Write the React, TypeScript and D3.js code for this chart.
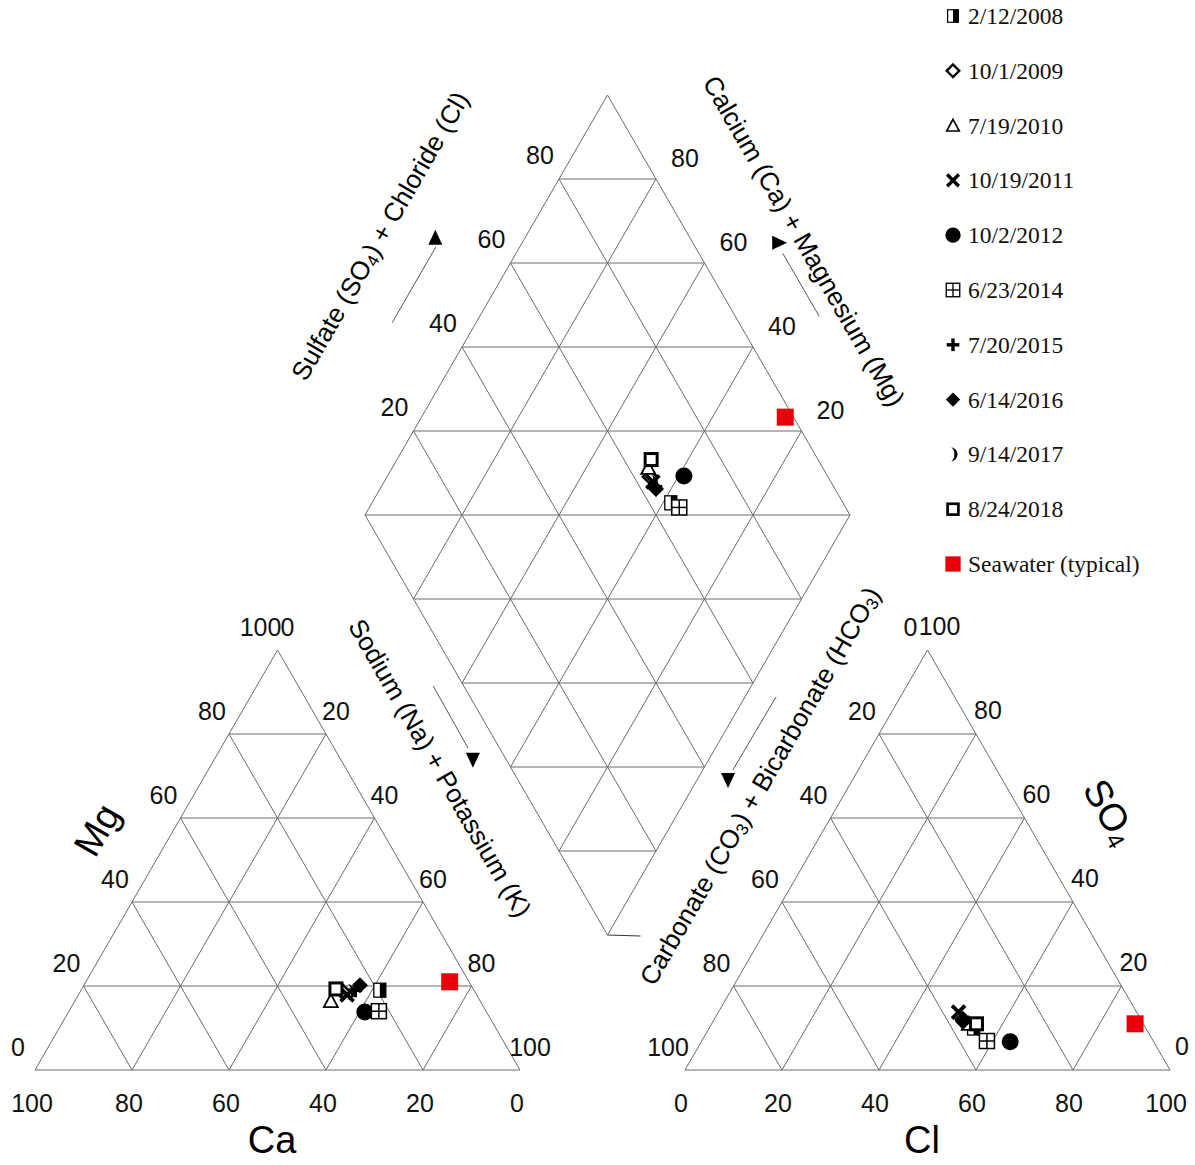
import React from 'react';
import * as d3 from 'd3';

// ---- data (percent of meq) ----
const sampleNames = ['2/12/2008', '10/1/2009', '7/19/2010', '10/19/2011', '10/2/2012', '6/23/2014', '7/20/2015', '6/14/2016', '9/14/2017', '8/24/2018', 'Seawater (typical)'];
const markerKinds = ['halfSquare', 'openDiamond', 'triangle', 'cross', 'circle', 'gridSquare', 'plus', 'filledDiamond', 'moon', 'openSquare', 'seawater'];
// cations
const mgPct = [19.0, 18.6, 16.4, 17.9, 13.8, 14.0, 19.0, 20.2, 18.6, 19.3, 21.0];
const naKPct = [61.6, 54.2, 52.8, 55.4, 61.1, 63.9, 56.5, 56.9, 55.6, 52.4, 75.0];
const caPct = mgPct.map((m, i) => 100 - m - naKPct[i]);
// anions
const so4Pct = [10.0, 12.0, 11.0, 13.8, 6.7, 6.9, 12.0, 11.5, 12.0, 11.0, 11.0];
const clPct = [54.5, 51.3, 53.0, 49.5, 63.7, 58.8, 51.2, 51.6, 51.2, 54.6, 87.3];
const hco3Pct = so4Pct.map((s, i) => 100 - s - clPct[i]);

const tickValues = [0, 20, 40, 60, 80, 100];
const diamondTicks = [20, 40, 60, 80];
const gridFractions = [0.2, 0.4, 0.6, 0.8];

// ---- geometry ----
const SIDE = 485;
const H = 420;
const BASE_Y = 1070;
const CAT_X0 = 35;
const AN_X0 = 685;
const D_BOTTOM_X = 607.5;
const D_BOTTOM_Y = 935;

const yTri = d3.scaleLinear().domain([0, 100]).range([BASE_Y, BASE_Y - H]);
const xCat = d3.scaleLinear().domain([0, 100]).range([CAT_X0, CAT_X0 + SIDE]);
const xAn = d3.scaleLinear().domain([0, 100]).range([AN_X0, AN_X0 + SIDE]);
const xDia = d3.scaleLinear().domain([-100, 100]).range([D_BOTTOM_X - SIDE / 2, D_BOTTOM_X + SIDE / 2]);
const yDia = d3.scaleLinear().domain([0, 200]).range([D_BOTTOM_Y, D_BOTTOM_Y - 2 * H]);

// ternary point: right = bottom-right component, top = apex component (percent)
const catPt = (right: number, top: number): [number, number] => [xCat(right + top / 2), yTri(top)];
const anPt = (right: number, top: number): [number, number] => [xAn(right + top / 2), yTri(top)];
// diamond: u = SO4+Cl, v = Ca+Mg (percent)
const diaPt = (u: number, v: number): [number, number] => [xDia(u - v), yDia(u + v)];

const GRID = '#6a6a6a';
const SANS = 'Liberation Sans, Arial, sans-serif';
const SERIF = 'Liberation Serif, Times New Roman, serif';

function Marker({ kind, x, y, k = 1 }: { kind: string; x: number; y: number; k?: number }) {
  const t = `translate(${x},${y}) scale(${k})`;
  switch (kind) {
    case 'halfSquare':
      return (
        <g transform={t}>
          <rect x={-6} y={-7} width={12} height={14} fill="#fff" stroke="#000" strokeWidth={1.3} />
          <rect x={0} y={-7} width={6} height={14} fill="#000" />
        </g>
      );
    case 'openDiamond':
      return <path transform={t} d="M0,-7L7,0L0,7L-7,0Z" fill="#fff" stroke="#000" strokeWidth={2.6} />;
    case 'triangle':
      return <path transform={t} d="M0,-7L7,6L-7,6Z" fill="#fff" stroke="#000" strokeWidth={1.8} />;
    case 'cross':
      return (
        <g transform={t} stroke="#000" strokeWidth={3.8}>
          <line x1={-6.5} y1={-6.5} x2={6.5} y2={6.5} />
          <line x1={-6.5} y1={6.5} x2={6.5} y2={-6.5} />
        </g>
      );
    case 'circle':
      return <circle transform={t} r={8.5} fill="#000" />;
    case 'gridSquare':
      return (
        <g transform={t} stroke="#000" strokeWidth={1.5}>
          <rect x={-7.5} y={-7.5} width={15} height={15} fill="#fff" />
          <line x1={0} y1={-7.5} x2={0} y2={7.5} />
          <line x1={-7.5} y1={0} x2={7.5} y2={0} />
        </g>
      );
    case 'plus':
      return (
        <g transform={t} stroke="#000" strokeWidth={3.8}>
          <line x1={-7} y1={0} x2={7} y2={0} />
          <line x1={0} y1={-7} x2={0} y2={7} />
        </g>
      );
    case 'filledDiamond':
      return <path transform={t} d="M0,-8L8,0L0,8L-8,0Z" fill="#000" />;
    case 'moon':
      return <path transform={t} d="M-3,-8A8,8 0 0 1 -3,8A4.5,8 0 0 0 -3,-8Z" fill="#000" />;
    case 'openSquare':
      return <rect transform={t} x={-6} y={-6} width={12} height={12} fill="#fff" stroke="#000" strokeWidth={3} />;
    case 'seawater':
      return <rect transform={t} x={-8.5} y={-8.5} width={17} height={17} fill="#e8000b" />;
    default:
      return null;
  }
}

function Seg({ a, b, w = 1, c = GRID }: { a: [number, number]; b: [number, number]; w?: number; c?: string }) {
  return <line x1={a[0]} y1={a[1]} x2={b[0]} y2={b[1]} stroke={c} strokeWidth={w} />;
}

function TriangleGrid({ pt }: { pt: (r: number, t: number) => [number, number] }) {
  const segs: [[number, number], [number, number]][] = [];
  segs.push([pt(0, 0), pt(100, 0)], [pt(100, 0), pt(0, 100)], [pt(0, 100), pt(0, 0)]);
  gridFractions.forEach((f) => {
    const p = f * 100;
    segs.push([pt(0, p), pt(100 - p, p)]);
    segs.push([pt(p, 0), pt(p, 100 - p)]);
    segs.push([pt(100 - p, 0), pt(0, 100 - p)]);
  });
  return (
    <g>
      {segs.map((s, i) => (
        <Seg key={i} a={s[0]} b={s[1]} />
      ))}
    </g>
  );
}

function DiamondGrid() {
  const segs: [[number, number], [number, number]][] = [];
  segs.push([diaPt(0, 0), diaPt(100, 0)], [diaPt(100, 0), diaPt(100, 100)], [diaPt(100, 100), diaPt(0, 100)], [diaPt(0, 100), diaPt(0, 0)]);
  gridFractions.forEach((f) => {
    const p = f * 100;
    segs.push([diaPt(p, 0), diaPt(p, 100)]);
    segs.push([diaPt(0, p), diaPt(100, p)]);
  });
  [20, 40, 60, 80, 100, 120, 140, 160, 180].forEach((s) => {
    if (s <= 100) segs.push([diaPt(0, s), diaPt(s, 0)]);
    else segs.push([diaPt(s - 100, 100), diaPt(100, s - 100)]);
  });
  const b = diaPt(0, 0);
  return (
    <g>
      {segs.map((s, i) => (
        <Seg key={i} a={s[0]} b={s[1]} />
      ))}
      <Seg a={b} b={[b[0] + 33, b[1] + 1]} c="#333" />
    </g>
  );
}

function Label({ p, dx, dy, text, size = 25 }: { p: [number, number]; dx: number; dy: number; text: string; size?: number }) {
  return (
    <text x={p[0] + dx} y={p[1] + dy} fontSize={size} fontFamily={SANS} textAnchor="middle" dominantBaseline="central" fill="#111">
      {text}
    </text>
  );
}

function Arrow({ from, to, head, rot }: { from: [number, number]; to: [number, number]; head: [number, number]; rot: number }) {
  return (
    <g>
      <line x1={from[0]} y1={from[1]} x2={to[0]} y2={to[1]} stroke="#555" strokeWidth={1} />
      <path transform={`translate(${head[0]},${head[1]}) rotate(${rot})`} d="M0,-8L7,7L-7,7Z" fill="#000" />
    </g>
  );
}

export default function App() {
  const idx = sampleNames.map((_, i) => i);

  return (
    <svg width={1195} height={1165} style={{ position: 'absolute', left: 0, top: 0, background: '#fff' }}>
      <rect width={1195} height={1165} fill="#fff" />
      <TriangleGrid pt={catPt} />
      <TriangleGrid pt={anPt} />
      <DiamondGrid />

      {/* cation tick labels */}
      {tickValues.map((v) => (
        <Label key={'cm' + v} p={catPt(0, v)} dx={-17} dy={-23} text={String(v)} />
      ))}
      {tickValues.map((v) => (
        <Label key={'cn' + v} p={catPt(v, 100 - v)} dx={10} dy={-23} text={String(v)} />
      ))}
      {tickValues.map((v) => (
        <Label key={'cc' + v} p={catPt(100 - v, 0)} dx={-3} dy={33} text={String(v)} />
      ))}
      {/* anion tick labels */}
      {tickValues.map((v) => (
        <Label key={'ah' + v} p={anPt(0, 100 - v)} dx={-17} dy={-23} text={String(v)} />
      ))}
      {tickValues.map((v) => (
        <Label key={'as' + v} p={anPt(100 - v, v)} dx={12} dy={-24} text={String(v)} />
      ))}
      {tickValues.map((v) => (
        <Label key={'ac' + v} p={anPt(v, 0)} dx={-4} dy={33} text={String(v)} />
      ))}
      {/* diamond tick labels */}
      {diamondTicks.map((v) => (
        <Label key={'du' + v} p={diaPt(v, 100)} dx={-19} dy={-24} text={String(v)} />
      ))}
      {diamondTicks.map((v) => (
        <Label key={'dv' + v} p={diaPt(100, v)} dx={29} dy={-21} text={String(v)} />
      ))}

      {/* axis titles */}
      <text transform="translate(97,830) rotate(-60)" fontSize={38} fontFamily={SANS} textAnchor="middle" dominantBaseline="central">Mg</text>
      <text x={272} y={1140} fontSize={38} fontFamily={SANS} textAnchor="middle" dominantBaseline="central">Ca</text>
      <text x={922} y={1140} fontSize={38} fontFamily={SANS} textAnchor="middle" dominantBaseline="central">Cl</text>
      <text transform="translate(1110,812) rotate(60)" fontSize={38} fontFamily={SANS} textAnchor="middle" dominantBaseline="central">
        SO<tspan fontSize={24} dy={9}>4</tspan>
      </text>

      <text transform="translate(380,236) rotate(-60)" fontSize={26} fontFamily={SANS} textAnchor="middle" dominantBaseline="central">
        Sulfate (SO<tspan fontSize={17} dy={6}>4</tspan><tspan dy={-6}>) + Chloride (Cl)</tspan>
      </text>
      <text transform="translate(804,241) rotate(60)" fontSize={26} fontFamily={SANS} textAnchor="middle" dominantBaseline="central">
        Calcium (Ca) + Magnesium (Mg)
      </text>
      <text transform="translate(440,768) rotate(60)" fontSize={26} fontFamily={SANS} textAnchor="middle" dominantBaseline="central">
        Sodium (Na) + Potassium (K)
      </text>
      <text transform="translate(760,786) rotate(-60)" fontSize={26} fontFamily={SANS} textAnchor="middle" dominantBaseline="central">
        Carbonate (CO<tspan fontSize={17} dy={6}>3</tspan><tspan dy={-6}>) + Bicarbonate (HCO</tspan><tspan fontSize={17} dy={6}>3</tspan><tspan dy={-6}>)</tspan>
      </text>

      {/* direction arrows (positions in diamond coordinates, outside the diamond) */}
      <Arrow from={diaPt(28.5, 117.3)} to={diaPt(46.5, 117.3)} head={diaPt(47.5, 118.5)} rot={0} />
      <Arrow from={diaPt(117.3, 30)} to={diaPt(117.3, 45)} head={diaPt(117.8, 47)} rot={90} />
      <Arrow from={diaPt(-6.3, 65.6)} to={diaPt(-6.5, 51)} head={diaPt(-6.9, 48.6)} rot={180} />
      <Arrow from={diaPt(63.1, -6.4)} to={diaPt(45.5, -6.2)} head={diaPt(43.3, -6.4)} rot={180} />

      {/* data points */}
      {idx.map((i) => {
        const p = catPt(naKPct[i], mgPct[i]);
        return <Marker key={'c' + i} kind={markerKinds[i]} x={p[0]} y={p[1]} />;
      })}
      {idx.map((i) => {
        const p = anPt(clPct[i], so4Pct[i]);
        return <Marker key={'a' + i} kind={markerKinds[i]} x={p[0]} y={p[1]} />;
      })}
      {idx.map((i) => {
        const u = so4Pct[i] + clPct[i];
        const v = caPct[i] + mgPct[i];
        const p = diaPt(u, v);
        return <Marker key={'d' + i} kind={markerKinds[i]} x={p[0]} y={p[1]} />;
      })}

      {/* legend */}
      {idx.map((i) => {
        const y = 16 + i * 54.8;
        return (
          <g key={'l' + i}>
            <Marker kind={markerKinds[i]} x={953} y={y} k={0.9} />
            <text x={968} y={y + 8} fontSize={23.5} fontFamily={SERIF} fill="#111">
              {sampleNames[i]}
            </text>
          </g>
        );
      })}
    </svg>
  );
}
